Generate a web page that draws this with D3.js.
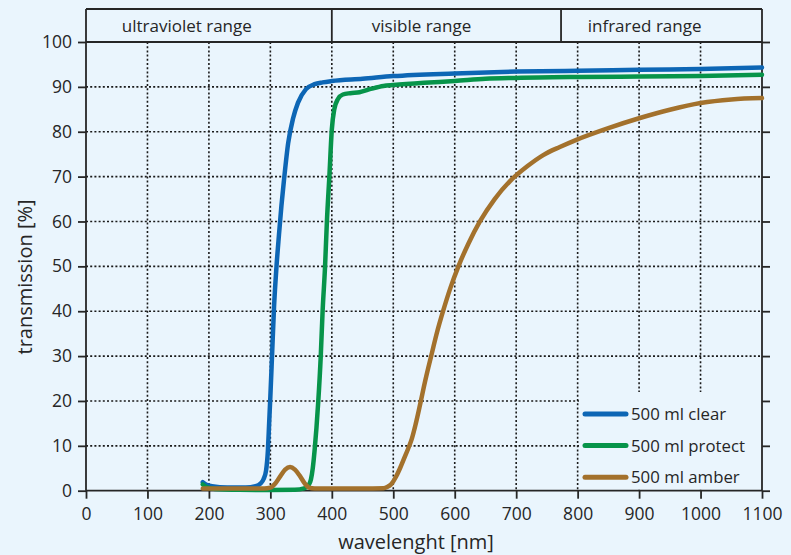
<!DOCTYPE html>
<html>
<head>
<meta charset="utf-8">
<script src="https://cdn.jsdelivr.net/npm/d3@7"></script>
<style>
  html, body { margin: 0; padding: 0; background: #eaf5fd; }
  svg { display: block; font-family: "Open Sans", "Noto Sans", sans-serif; }
</style>
</head>
<body>
<svg id="chart" width="791" height="555"></svg>
<script>
// ---- data ----
const xTicks = [0,100,200,300,400,500,600,700,800,900,1000,1100];
const yTicks = [0,10,20,30,40,50,60,70,80,90,100];
const rangeBounds = [0, 400, 773, 1100];
const rangeLabels = ["ultraviolet range", "visible range", "infrared range"];
const rangeLabelNm = [164, 546, 909];

const seriesNames = ["500 ml clear", "500 ml protect", "500 ml amber"];
const seriesColors = ["#0d66b5", "#07944a", "#a3712c"];

const clearNm = [190,196,205,230,260,276,284,289,293,296,298,300,303,306,310,314,318,322,329,337,345,358,372,385,400,450,500,600,700,800,900,1000,1100];
const clearT  = [1.9,1.3,1.0,0.7,0.7,1.0,1.6,2.6,4.5,9,15,21,31,41,50,57,63.5,69,77.5,83,86.5,89.5,90.6,91.0,91.3,91.8,92.4,93.0,93.4,93.6,93.8,94.0,94.3];

const protectNm = [190,196,210,250,300,340,355,362,366,369,372,375,378,382,385,389,392,396,400,404,410,418,430,445,465,484,500,550,600,650,700,800,900,1000,1100];
const protectT  = [1.4,0.8,0.4,0.2,0.15,0.2,0.5,1.2,2.5,5,9,14,20,30,40,50,60,70,80.5,85,87.3,88.3,88.6,88.8,89.6,90.2,90.4,90.9,91.3,91.8,92.0,92.2,92.3,92.4,92.7];

const amberNm = [190,250,290,300,308,316,324,332,340,348,356,363,372,450,484,490,497,504,511,518,524,530,536,543,552,562,571,581,593,606,622,641,665,690,718,744,771,798,850,900,950,1000,1050,1100];
const amberT  = [0.5,0.5,0.5,0.7,1.6,3.2,4.7,5.3,4.7,3.3,1.6,0.7,0.5,0.5,0.55,0.8,1.5,3.0,5.0,7.3,9.3,11.5,14.6,18.8,24.5,30.2,35.2,40,45.2,50,55,60,65,69,72.3,74.8,76.6,78.2,80.8,83.0,84.9,86.4,87.2,87.5];

const seriesNm = [clearNm, protectNm, amberNm];
const seriesT = [clearT, protectT, amberT];

// ---- layout ----
const svg = d3.select("#chart");
const x = d3.scaleLinear().domain([0, 1100]).range([86, 762]);
const y = d3.scaleLinear().domain([0, 100]).range([490.7, 42]);
const headerTop = 9;
const ink = "#262626";
const bg = "#eaf5fd";

// grid
const grid = svg.append("g").attr("stroke", "#1a1a1a").attr("stroke-width", 1.6)
  .attr("stroke-dasharray", "2,2.2");
grid.selectAll("line.v").data(xTicks.filter(d => d > 0 && d < 1100)).join("line")
  .attr("x1", d => x(d)).attr("x2", d => x(d))
  .attr("y1", y(100)).attr("y2", y(0));
grid.selectAll("line.h").data(yTicks.filter(d => d > 0 && d < 100)).join("line")
  .attr("y1", d => y(d)).attr("y2", d => y(d))
  .attr("x1", x(0)).attr("x2", x(1100));

// legend background (covers grid)
const legX = 579, legY = 392;
svg.append("rect").attr("x", legX).attr("y", legY)
  .attr("width", x(1100) - legX - 1).attr("height", y(0) - legY - 1.5)
  .attr("fill", bg);

// axes
const axisStyle = g => {
  g.select(".domain").remove();
  g.selectAll("line").attr("stroke", ink).attr("stroke-width", 1.8);
  g.selectAll("text").attr("fill", ink).attr("font-size", 17.5)
    .attr("font-family", "'Open Sans', sans-serif");
};
svg.append("g").attr("transform", `translate(${x(0)},0)`)
  .call(d3.axisLeft(y).tickValues(yTicks).tickSize(8).tickPadding(6).tickFormat(d3.format("d")))
  .call(axisStyle);
svg.append("g").attr("transform", `translate(${x(1100)},0)`)
  .call(d3.axisRight(y).tickValues(yTicks).tickSize(8).tickFormat(""))
  .call(axisStyle);
svg.append("g").attr("transform", `translate(0,${y(0)})`)
  .call(d3.axisBottom(x).tickValues(xTicks).tickSize(8).tickPadding(9).tickFormat(d3.format("d")))
  .call(axisStyle);

// frame lines
const frame = svg.append("g").attr("stroke", ink).attr("stroke-width", 1.8);
frame.append("line").attr("x1", x(0)).attr("x2", x(0)).attr("y1", headerTop).attr("y2", y(0));
frame.append("line").attr("x1", x(1100)).attr("x2", x(1100)).attr("y1", headerTop).attr("y2", y(0));
frame.append("line").attr("x1", x(0)).attr("x2", x(1100)).attr("y1", y(0)).attr("y2", y(0));
frame.append("line").attr("x1", x(0)).attr("x2", x(1100)).attr("y1", headerTop).attr("y2", headerTop);
frame.append("line").attr("x1", x(0)).attr("x2", x(1100)).attr("y1", y(100)).attr("y2", y(100));
frame.selectAll("line.div").data(rangeBounds.slice(1, -1)).join("line")
  .attr("x1", d => x(d)).attr("x2", d => x(d)).attr("y1", headerTop).attr("y2", y(100));

// header labels
svg.append("g").selectAll("text").data(rangeLabels).join("text")
  .attr("x", (d, i) => x(rangeLabelNm[i])).attr("y", 32)
  .attr("text-anchor", "middle").attr("font-size", 17).attr("fill", ink)
  .text(d => d);

// curves
const line = d3.line().x(d => x(d[0])).y(d => y(d[1])).curve(d3.curveMonotoneX);
svg.append("g").selectAll("path").data(seriesNames).join("path")
  .attr("d", (d, i) => line(seriesNm[i].map((v, j) => [v, seriesT[i][j]])))
  .attr("fill", "none").attr("stroke", (d, i) => seriesColors[i])
  .attr("stroke-width", 4.5).attr("stroke-linejoin", "round").attr("stroke-linecap", "round");

// legend
const leg = svg.append("g").selectAll("g").data(seriesNames).join("g")
  .attr("transform", (d, i) => `translate(585,${414 + i * 31.6})`);
leg.append("line").attr("x1", 0).attr("x2", 41).attr("y1", 0).attr("y2", 0)
  .attr("stroke", (d, i) => seriesColors[i]).attr("stroke-width", 5).attr("stroke-linecap", "round");
leg.append("text").attr("x", 46).attr("y", 6).attr("font-size", 16.8).attr("fill", ink)
  .text(d => d);

// axis titles
svg.append("text").attr("x", 416).attr("y", 549).attr("text-anchor", "middle")
  .attr("font-size", 20).attr("fill", ink).text("wavelenght [nm]");
svg.append("text").attr("transform", "translate(32,277) rotate(-90)")
  .attr("text-anchor", "middle").attr("font-size", 20).attr("fill", ink)
  .text("transmission [%]");
</script>
</body>
</html>
